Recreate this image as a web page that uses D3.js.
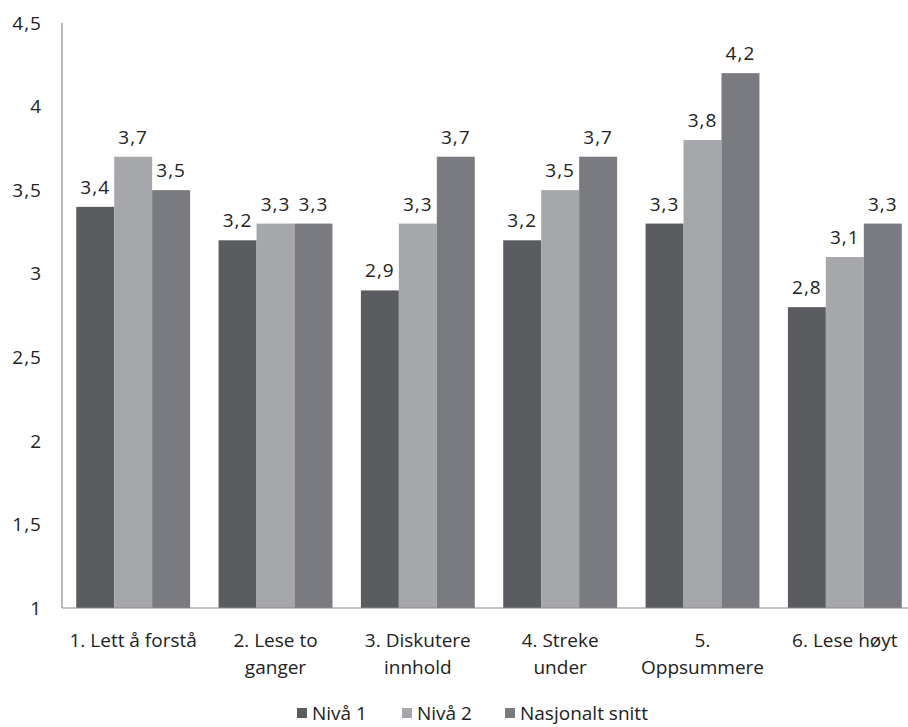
<!DOCTYPE html>
<html>
<head>
<meta charset="utf-8">
<script src="https://cdn.jsdelivr.net/npm/d3@7"></script>
<style>
  body { margin: 0; background: #fff; }
  text { font-family: "Open Sans", Lato, sans-serif; fill: #222; font-size: 19px; }
</style>
</head>
<body>
<svg width="908" height="727"></svg>
<script>
// chart data
const categories = ["1. Lett å forstå", "2. Lese to ganger", "3. Diskutere innhold", "4. Streke under", "5. Oppsummere", "6. Lese høyt"];
const categoryLines = [["1. Lett å forstå"], ["2. Lese to", "ganger"], ["3. Diskutere", "innhold"], ["4. Streke", "under"], ["5.", "Oppsummere"], ["6. Lese høyt"]];
const seriesNames = ["Nivå 1", "Nivå 2", "Nasjonalt snitt"];
const niva1 = [3.4, 3.2, 2.9, 3.2, 3.3, 2.8];
const niva2 = [3.7, 3.3, 3.3, 3.5, 3.8, 3.1];
const nasjonalt = [3.5, 3.3, 3.7, 3.7, 4.2, 3.3];
const yTicks = [1, 1.5, 2, 2.5, 3, 3.5, 4, 4.5];

const colors = ["#5b5c60", "#a6a7ab", "#7a7b80"];
const seriesValues = [niva1, niva2, nasjonalt];
const fmt = (v) => String(v).replace(".", ",");

const svg = d3.select("svg");
const plotLeft = 62, plotRight = 916, plotTop = 23, plotBottom = 608;

const x = d3.scaleBand()
  .domain(categories)
  .range([plotLeft, plotRight])
  .paddingInner(0.2)
  .paddingOuter(0.1);

const x1 = d3.scaleBand()
  .domain(seriesNames)
  .range([0, x.bandwidth()]);

const y = d3.scaleLinear()
  .domain([1, 4.5])
  .range([plotBottom, plotTop]);

// y axis labels
svg.append("g").selectAll("text")
  .data(yTicks)
  .enter().append("text")
    .attr("x", 42)
    .attr("y", (d) => y(d))
    .attr("dy", "0.35em")
    .attr("text-anchor", "end")
    .style("letter-spacing", "1px")
    .text(fmt);

// bars
const group = svg.append("g").selectAll("g")
  .data(categories)
  .enter().append("g")
    .attr("transform", (d) => `translate(${x(d)},0)`);

const rows = (d, i) => seriesNames.map((s, j) => ({ s, j, v: seriesValues[j][i] }));

group.selectAll("rect")
  .data(rows)
  .enter().append("rect")
    .attr("x", (d) => x1(d.s))
    .attr("y", (d) => y(d.v))
    .attr("width", x1.bandwidth())
    .attr("height", (d) => plotBottom - y(d.v))
    .attr("fill", (d) => colors[d.j]);

group.selectAll("text.val")
  .data(rows)
  .enter().append("text")
    .attr("class", "val")
    .attr("x", (d) => x1(d.s) + x1.bandwidth() / 2)
    .attr("y", (d) => y(d.v) - 13)
    .attr("text-anchor", "middle")
    .style("letter-spacing", "1px")
    .text((d) => fmt(d.v));

// axes lines
svg.append("line")
  .attr("x1", plotLeft).attr("x2", plotLeft)
  .attr("y1", plotTop).attr("y2", plotBottom)
  .attr("stroke", "#8a8a8a").attr("stroke-width", 1.2);
svg.append("line")
  .attr("x1", plotLeft).attr("x2", plotRight)
  .attr("y1", plotBottom).attr("y2", plotBottom)
  .attr("stroke", "#8a8a8a").attr("stroke-width", 1.2);

// category labels
svg.append("g").selectAll("text")
  .data(categories)
  .enter().append("text")
    .attr("x", (d) => x(d) + x.bandwidth() / 2)
    .attr("y", 647)
    .attr("text-anchor", "middle")
    .selectAll("tspan")
      .data((d, i) => categoryLines[i])
    .enter().append("tspan")
      .attr("x", function () { return this.parentNode.getAttribute("x"); })
      .attr("dy", (d, i) => i === 0 ? 0 : 27)
      .text((d) => d);

// legend
const legendX = [297, 402, 505];
const legend = svg.append("g").selectAll("g")
  .data(seriesNames)
  .enter().append("g")
    .attr("transform", (d, i) => `translate(${legendX[i]},713)`);
legend.append("rect")
  .attr("x", 0).attr("y", -5)
  .attr("width", 10).attr("height", 10)
  .attr("fill", (d, i) => colors[i]);
legend.append("text")
  .attr("x", 15)
  .attr("y", 0)
  .attr("dy", "0.35em")
  .text((d) => d);
</script>
</body>
</html>
